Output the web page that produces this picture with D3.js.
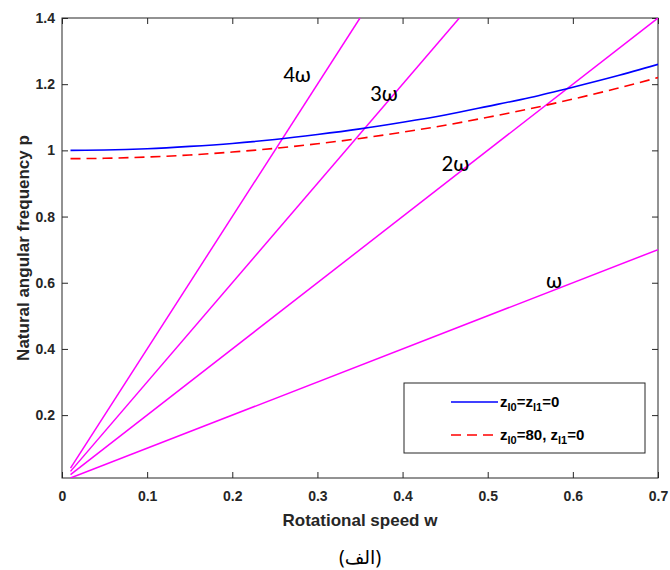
<!DOCTYPE html>
<html><head><meta charset="utf-8">
<script src="https://d3js.org/d3.v7.min.js"></script>
<style>body{margin:0;background:#fff;} svg{display:block;}</style>
</head><body>
<script>
// Data
const wValues = [0.01,0.05,0.1,0.15,0.2,0.25,0.3,0.35,0.4,0.45,0.5,0.55,0.6,0.65,0.7];
const pBlue   = [1.000,1.001,1.005,1.012,1.021,1.033,1.048,1.065,1.085,1.107,1.133,1.160,1.191,1.224,1.260];
const pRed    = [0.975,0.976,0.980,0.986,0.995,1.006,1.020,1.036,1.055,1.076,1.100,1.126,1.155,1.186,1.220];
const harmonicLabels = ["ω","2ω","3ω","4ω"];
// line endpoints (w, p) for each harmonic line
const harmonicStart = [[0.01,0.01],[0.01,0.02],[0.01,0.03],[0.01,0.04]];
const harmonicEnd   = [[0.7,0.7],[0.7,1.4],[0.4667,1.4],[0.35,1.4]];
const harmonicLabelPos = [[0.578,0.60],[0.462,0.953],[0.378,1.166],[0.276,1.222]];
const xTicks = [0,0.1,0.2,0.3,0.4,0.5,0.6,0.7];
const yTicks = [0.2,0.4,0.6,0.8,1,1.2,1.4];

const W=670,H=570, m={l:62,r:12,t:18,b:92};
const svg=d3.select("body").append("svg").attr("width",W).attr("height",H);
const x=d3.scaleLinear().domain([0,0.7]).range([m.l,W-m.r]);
const y=d3.scaleLinear().domain([0.01,1.4]).range([H-m.b,m.t]);
const pw=W-m.l-m.r, ph=H-m.t-m.b;

const font="'Liberation Sans', Arial, sans-serif";
const tickCol="#262626";

// axes (MATLAB style, inward ticks)
const ax=svg.append("g").attr("transform",`translate(0,${H-m.b})`)
  .call(d3.axisBottom(x).tickValues(xTicks).tickFormat(d=>d===0?"0":d3.format(".1f")(d)).tickSizeInner(-6).tickSizeOuter(0).tickPadding(13));
const ay=svg.append("g").attr("transform",`translate(${m.l},0)`)
  .call(d3.axisLeft(y).tickValues(yTicks).tickFormat(d=>d===1?"1":d3.format(".1f")(d)).tickSizeInner(-6).tickSizeOuter(0).tickPadding(7));
const axt=svg.append("g").attr("transform",`translate(0,${m.t})`)
  .call(d3.axisTop(x).tickValues(xTicks).tickFormat("").tickSizeInner(-6).tickSizeOuter(0));
const ayr=svg.append("g").attr("transform",`translate(${W-m.r},0)`)
  .call(d3.axisRight(y).tickValues(yTicks).tickFormat("").tickSizeInner(-6).tickSizeOuter(0));
[ax,ay,axt,ayr].forEach(g=>{
  g.selectAll("path").attr("stroke","none");
  g.selectAll("line").attr("stroke",tickCol).attr("stroke-width",1);
  g.selectAll("text").attr("fill",tickCol).attr("font-family",font).attr("font-size",14).attr("font-weight","bold");
});
svg.append("rect").attr("x",m.l).attr("y",m.t).attr("width",pw).attr("height",ph)
  .attr("fill","none").attr("stroke",tickCol).attr("stroke-width",1);

const clip=svg.append("clipPath").attr("id","c").append("rect").attr("x",m.l).attr("y",m.t).attr("width",pw).attr("height",ph);
const plot=svg.append("g").attr("clip-path","url(#c)");

// harmonic lines
harmonicStart.forEach((s,i)=>{
  const e=harmonicEnd[i];
  plot.append("line").attr("x1",x(s[0])).attr("y1",y(s[1])).attr("x2",x(e[0])).attr("y2",y(e[1]))
    .attr("stroke","#ff00ff").attr("stroke-width",1.5);
});
const line=d3.line().x((d,i)=>x(wValues[i])).y(d=>y(d)).curve(d3.curveMonotoneX);
plot.append("path").datum(pBlue).attr("d",line).attr("fill","none").attr("stroke","#0000ff").attr("stroke-width",1.6);
plot.append("path").datum(pRed).attr("d",line).attr("fill","none").attr("stroke","#ff0000").attr("stroke-width",1.6).attr("stroke-dasharray","10,6");

harmonicLabels.forEach((t,i)=>{
  svg.append("text").attr("x",x(harmonicLabelPos[i][0])).attr("y",y(harmonicLabelPos[i][1]))
    .attr("text-anchor","middle").attr("dominant-baseline","middle")
    .attr("font-family","Carlito, 'Open Sans', 'Liberation Sans', sans-serif").attr("font-size",23).attr("fill","#000").text(t);
});

// axis titles
svg.append("text").attr("x",x(0.35)).attr("y",526).attr("text-anchor","middle")
  .attr("font-family",font).attr("font-size",17).attr("font-weight","bold").attr("fill",tickCol).text("Rotational speed w");
svg.append("text").attr("transform",`translate(29,${m.t+ph/2}) rotate(-90)`).attr("text-anchor","middle")
  .attr("font-family",font).attr("font-size",17).attr("font-weight","bold").attr("fill",tickCol).text("Natural angular frequency p");
svg.append("text").attr("x",x(0.35)).attr("y",564).attr("text-anchor","middle")
  .attr("font-family","'Noto Sans', 'DejaVu Sans', sans-serif").attr("font-size",19).attr("fill","#000").text("(الف)");

// legend
const lg=svg.append("g");
lg.append("rect").attr("x",404).attr("y",383).attr("width",241).attr("height",70).attr("fill","#fff").attr("stroke",tickCol).attr("stroke-width",1);
const legItems=[{c:"#0000ff",d:null,y:402,parts:[["z",""],["l0","sub"],["=z",""],["l1","sub"],["=0",""]]},
                {c:"#ff0000",d:"10,6",y:435,parts:[["z",""],["l0","sub"],["=80, z",""],["l1","sub"],["=0",""]]}];
legItems.forEach(it=>{
  lg.append("line").attr("x1",451).attr("x2",498).attr("y1",it.y).attr("y2",it.y).attr("stroke",it.c).attr("stroke-width",1.6)
    .attr("stroke-dasharray",it.d);
  const t=lg.append("text").attr("x",500).attr("y",it.y+5).attr("font-family",font).attr("font-size",15).attr("font-weight","bold").attr("fill","#000");
  it.parts.forEach(p=>{
    const ts=t.append("tspan").text(p[0]);
    if(p[1]==="sub") ts.attr("font-size",11).attr("dy",4);
    else if(t.selectAll("tspan").size()>1) ts.attr("dy",-4);
  });
});
</script>
</body></html>
